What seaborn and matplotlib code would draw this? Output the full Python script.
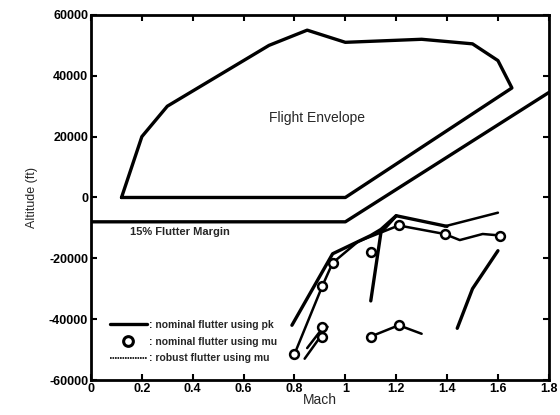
import matplotlib
matplotlib.use("Agg")
import matplotlib.pyplot as plt
import seaborn as sns
import pandas as pd
from matplotlib.lines import Line2D

sns.set_theme(style="ticks")
plt.rcParams['font.family'] = ['Liberation Sans', 'DejaVu Sans']

# Flight envelope boundary (Mach, altitude ft)
env_mach = [0.12, 0.2, 0.3, 0.7, 0.85, 1.0, 1.3, 1.5, 1.6, 1.655, 1.0, 0.12]
env_alt = [0, 20000, 30000, 50000, 55000, 51000, 52000, 50500, 45000, 36000, 0, 0]

# 15% flutter margin
margin_mach = [0.0, 1.0, 1.8]
margin_alt = [-8000, -8000, 34500]

# Nominal flutter using pk (thick lines)
pk1_mach = [0.79, 0.95, 1.1, 1.14, 1.2, 1.4]
pk1_alt = [-42000, -18500, -12500, -10500, -6000, -9500]
pk2_mach = [1.1, 1.14, 1.2]
pk2_alt = [-34000, -11500, -6000]
pk3_mach = [1.44, 1.5, 1.6]
pk3_alt = [-43000, -30000, -17500]

# Robust flutter using mu (thin lines)
rob1_mach = [0.8, 0.91, 0.95, 1.05, 1.21, 1.39, 1.45, 1.54, 1.61]
rob1_alt = [-51500, -29000, -21500, -14500, -9200, -12000, -14000, -12000, -12500]
rob2_mach = [1.39, 1.6]
rob2_alt = [-9500, -5000]
rob3_mach = [1.1, 1.21, 1.3]
rob3_alt = [-45700, -42000, -44800]
rob4_mach = [0.84, 0.93]
rob4_alt = [-53000, -42500]
rob5_mach = [0.85, 0.91]
rob5_alt = [-49500, -43000]

# Nominal flutter using mu (circles)
mu_mach = [0.8, 0.91, 0.95, 1.21, 1.39, 1.61, 1.1, 0.91, 0.91, 1.1, 1.21]
mu_alt = [-51500, -29000, -21500, -9200, -12000, -12500, -18000, -42500, -46000, -45700, -42000]

fig = plt.figure(figsize=(5.6, 4.15), dpi=100)
ax = fig.add_axes([0.1625, 0.0843, 0.8175, 0.8797])

def line(xs, ys, lw):
    df = pd.DataFrame({"Mach": xs, "Alt": ys})
    sns.lineplot(data=df, x="Mach", y="Alt", sort=False, estimator=None,
                 color="black", linewidth=lw, ax=ax)

line(env_mach, env_alt, 2.4)
line(margin_mach, margin_alt, 2.4)
for xs, ys in [(rob1_mach, rob1_alt), (rob2_mach, rob2_alt), (rob3_mach, rob3_alt),
               (rob4_mach, rob4_alt), (rob5_mach, rob5_alt)]:
    line(xs, ys, 1.8)
for xs, ys in [(pk1_mach, pk1_alt), (pk2_mach, pk2_alt), (pk3_mach, pk3_alt)]:
    line(xs, ys, 2.4)

sns.scatterplot(x=mu_mach, y=mu_alt, marker="o", s=40, facecolor="white",
                edgecolor="black", linewidth=1.8, ax=ax, zorder=5)

ax.text(0.89, 26000, "Flight Envelope", ha="center", va="center", fontsize=10)
ax.text(0.155, -11500, "15% Flutter Margin", ha="left", va="center", fontsize=8, fontweight="bold")

handles = [
    Line2D([], [], color="black", linewidth=2.4),
    Line2D([], [], color="black", marker="o", linestyle="None", markersize=7,
           markerfacecolor="white", markeredgewidth=2.2),
    Line2D([], [], color="black", linewidth=1.2, linestyle=(0, (1, 0.5))),
]
labels = [": nominal flutter using pk", ": nominal flutter using mu", ": robust flutter using mu"]
ax.legend(handles, labels, loc="lower left", bbox_to_anchor=(0.02, 0.02), frameon=False,
          prop={"size": 7.5, "weight": "bold"}, handlelength=3.6, handletextpad=0.2,
          labelspacing=0.65)

ax.set_xlim(0, 1.8)
ax.set_ylim(-60000, 60000)
ax.set_xticks([0, 0.2, 0.4, 0.6, 0.8, 1, 1.2, 1.4, 1.6, 1.8])
ax.set_xticklabels(["0", "0.2", "0.4", "0.6", "0.8", "1", "1.2", "1.4", "1.6", "1.8"])
ax.set_yticks([-60000, -40000, -20000, 0, 20000, 40000, 60000])
ax.set_yticklabels(["-60000", "-40000", "-20000", "0", "20000", "40000", "60000"])
ax.tick_params(direction="in", length=4, width=1.5, top=True, right=True,
               labelsize=9, pad=2, color="black", labelcolor="black")
for lab in ax.get_xticklabels() + ax.get_yticklabels():
    lab.set_fontweight("bold")
for s in ax.spines.values():
    s.set_linewidth(2)
    s.set_color("black")
ax.set_xlabel("Mach", fontsize=10, labelpad=-1)
ax.set_ylabel("Altitude (ft)", fontsize=9, labelpad=8)

fig.savefig("out.png", dpi=100)
